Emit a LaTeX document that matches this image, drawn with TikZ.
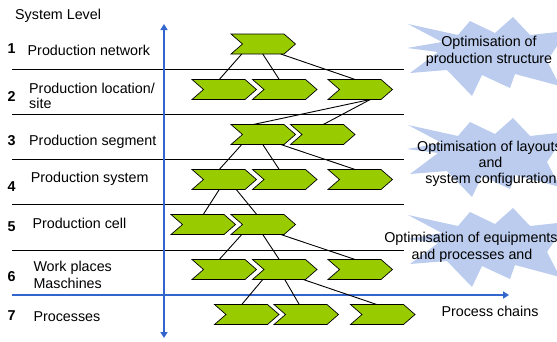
\documentclass[tikz,border=0pt]{standalone}
\usepackage{fontspec}
\setmainfont{Liberation Sans}
\usetikzlibrary{arrows.meta,calc}
\definecolor{chevgreen}{RGB}{153,204,0}
\definecolor{axisblue}{RGB}{51,102,204}
\definecolor{starblue}{RGB}{187,204,238}
\newcommand\mychev[3]{%
  \node[chevnode] (#1) at (#2+32.25,#3+10) {};
  \draw[chevshape] (#1.north west) -- ([xshift=-11.5pt]#1.north east) -- (#1.east)
    -- ([xshift=-11.5pt]#1.south east) -- (#1.south west) -- ([xshift=11.5pt]#1.west) -- cycle;}
\begin{document}
\begin{tikzpicture}[x=1pt,y=-1pt,
  font=\fontsize{14.3}{17}\selectfont,
  rowline/.style={line width=0.9pt},
  axis/.style={axisblue, line width=2.6pt},
  conn/.style={line width=0.9pt},
  chevnode/.style={minimum width=64.5pt, minimum height=20pt, inner sep=0pt, outer sep=0pt},
  chevshape/.style={fill=chevgreen, draw=black, line width=0.7pt, line join=miter},
  lab/.style={anchor=base west, inner sep=0pt},
  num/.style={anchor=base west, inner sep=0pt, font=\fontsize{14.3}{17}\selectfont\bfseries},
  startext/.style={anchor=base, inner sep=0pt},
  tip/.style={Triangle[length=6pt,width=7pt]}]
\useasboundingbox (0,0) rectangle (557,341);
\clip (0,0) rectangle (557,341);

% starbursts
\foreach \cx/\cy in {487/56, 487/157, 487/247} {
  \fill[starblue, shift={(\cx,\cy)}]
    (-80,-8) -- (-49,-4) -- (-77,17) -- (-40,14) -- (-15,40) -- (-5,19)
    -- (23,32) -- (28,18) -- (73,30) -- (60,5) -- (80,-25) -- (43,-21)
    -- (26,-39) -- (8,-23) -- (-17,-35) -- (-29,-21) -- (-79,-32) -- (-45,-14) -- cycle;
}

% row separators
\foreach \yy in {69,114,159,204,250}
  \draw[rowline] (12,\yy) -- (404,\yy);

% axes
\coordinate (vbot) at (164,338);
\coordinate (vtop) at (164,24);
\coordinate (hleft) at (12,295);
\coordinate (hright) at (509,295);
\draw[axis, {Triangle[length=6pt,width=7pt]}-{Triangle[length=6pt,width=7pt]}] (vbot) -- (vtop);
\draw[axis, -{Triangle[length=6pt,width=7pt]}] (hleft) -- (hright);

% chevrons
\mychev{r1}{231}{34}
\mychev{r2a}{192}{79.5}
\mychev{r2b}{252.5}{79.5}
\mychev{r2c}{328}{79.5}
\mychev{r3a}{231}{124.5}
\mychev{r3b}{290.5}{124.5}
\mychev{r4a}{192}{169.5}
\mychev{r4b}{252.5}{169.5}
\mychev{r4c}{328}{169.5}
\mychev{r5a}{171}{214.5}
\mychev{r5b}{231}{214.5}
\mychev{r6a}{192}{259.5}
\mychev{r6b}{252.5}{259.5}
\mychev{r6c}{328}{259.5}
\mychev{r7a}{214.5}{304.5}
\mychev{r7b}{274}{304.5}
\mychev{r7c}{350.5}{304.5}

% connectors
\draw[conn] ([xshift=-21.5pt]r1.south) -- ([xshift=-5pt]r2a.north);
\draw[conn] ([xshift=-0.5pt]r1.south) -- ([xshift=-5.5pt]r2b.north);
\draw[conn] ([xshift=17.5pt]r1.south) -- ([xshift=-5pt]r2c.north);
\draw[conn] ([xshift=10pt]r2c.south) -- ([xshift=-10pt]r3a.north);
\draw[conn] ([xshift=10pt]r2c.south) -- ([xshift=0.5pt]r3b.north);
\draw[conn] ([xshift=-21.5pt]r3a.south) -- ([xshift=-5pt]r4a.north);
\draw[conn] ([xshift=-0.5pt]r3a.south) -- ([xshift=-5.5pt]r4b.north);
\draw[conn] ([xshift=17.5pt]r3a.south) -- ([xshift=-5pt]r4c.north);
\draw[conn] ([xshift=-5pt]r4a.south) -- ([xshift=0pt]r5a.north);
\draw[conn] ([xshift=12pt]r4a.south) -- ([xshift=-6.5pt]r5b.north);
\draw[conn] ([xshift=-21.5pt]r5b.south) -- ([xshift=-5pt]r6a.north);
\draw[conn] ([xshift=-0.5pt]r5b.south) -- ([xshift=-5.5pt]r6b.north);
\draw[conn] ([xshift=17.5pt]r5b.south) -- ([xshift=-5pt]r6c.north);
\draw[conn] ([xshift=-22pt]r6b.south) -- ([xshift=-5pt]r7a.north);
\draw[conn] ([xshift=0pt]r6b.south) -- ([xshift=-7pt]r7b.north);
\draw[conn] ([xshift=18.5pt]r6b.south) -- ([xshift=-6pt]r7c.north);

% left labels
\node[lab] (syslevel) at (15,19.5) {System Level};
\node[num] (n1) at (7.5,53.5) {1};
\node[lab] (t1) at (27.5,55) {Production network};
\node[num] (n2) at (7.5,101.7) {2};
\node[lab] (t2a) at (29,93.3) {Production location/};
\node[lab] (t2b) at (29,108.7) {site};
\node[num] (n3) at (7.5,145) {3};
\node[lab] (t3) at (29,145) {Production segment};
\node[num] (n4) at (7.5,191.7) {4};
\node[lab] (t4) at (30.7,182.7) {Production system};
\node[num] (n5) at (7.5,231.7) {5};
\node[lab] (t5) at (32.3,228.3) {Production cell};
\node[num] (n6) at (7.5,281.7) {6};
\node[lab] (t6a) at (33.3,271.7) {Work places};
\node[lab] (t6b) at (33.3,288.3) {Maschines};
\node[num] (n7) at (7.5,320.7) {7};
\node[lab] (t7) at (33.3,321) {Processes};

% right texts
\node[startext] (s1a) at (489,46.5) {Optimisation of};
\node[startext] (s1b) at (489,63.5) {production structure};
\node[startext] (s2a) at (489.5,151) {Optimisation of layouts};
\node[startext] (s2b) at (490.5,167) {and};
\node[startext] (s2c) at (491,183) {system configuration};
\node[startext] (s3a) at (471,242.7) {Optimisation of equipments};
\node[startext] (s3b) at (472,259.5) {and processes and};
\node[startext] (pc) at (490,316) {Process chains};
\end{tikzpicture}
\end{document}
